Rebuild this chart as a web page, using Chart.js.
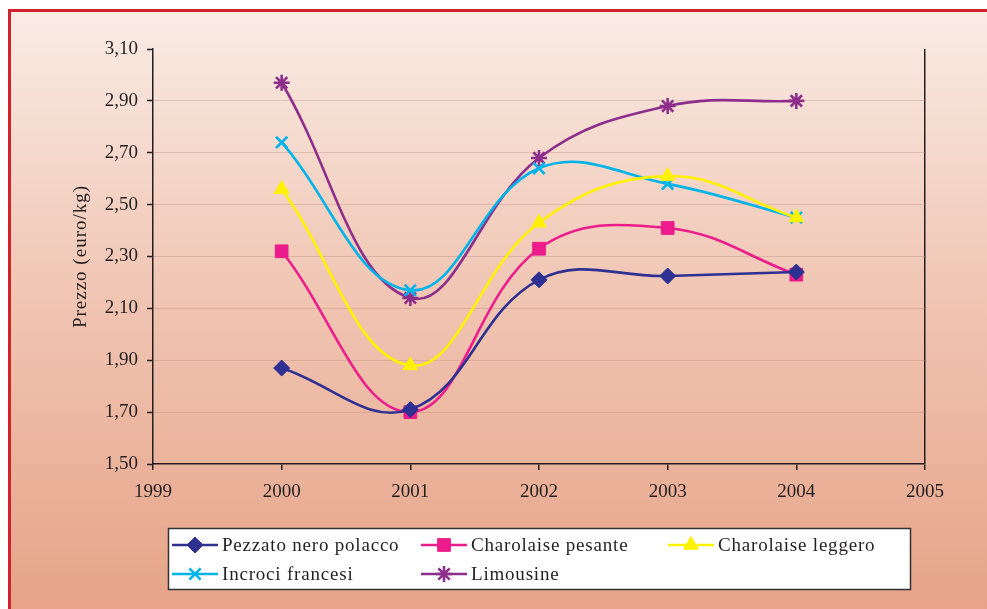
<!DOCTYPE html>
<html>
<head>
<meta charset="utf-8">
<script src="https://cdn.jsdelivr.net/npm/chart.js@4/dist/chart.umd.min.js"></script>
<style>
  html, body { margin: 0; padding: 0; background: #ffffff; }
  #wrap { position: relative; width: 987px; height: 609px; }
</style>
</head>
<body>
<div id="wrap"><canvas id="c" width="987" height="609"></canvas></div>
<script>
// Prezzo medio annuo per tipologia di broutard (euro/kg)
const years = [2000, 2001, 2002, 2003, 2004];
const pezzatoNeroPolacco = [1.87, 1.71, 2.21, 2.225, 2.24];
const charolaisePesante  = [2.32, 1.70, 2.33, 2.41, 2.23];
const charolaiseLeggero  = [2.56, 1.88, 2.43, 2.61, 2.45];
const incrociFrancesi    = [2.74, 2.17, 2.64, 2.58, 2.45];
const limousine          = [2.97, 2.14, 2.68, 2.88, 2.90];

const seriesNames = ['Pezzato nero polacco', 'Charolaise pesante', 'Charolaise leggero', 'Incroci francesi', 'Limousine'];
const yTicks = [1.50, 1.70, 1.90, 2.10, 2.30, 2.50, 2.70, 2.90, 3.10];
const xTicks = [1999, 2000, 2001, 2002, 2003, 2004, 2005];
const yTitle = 'Prezzo (euro/kg)';

const FONT = '"Liberation Serif", "DejaVu Serif", serif';
const INK = '#231f20';

const styles = [
  { color: '#2e3192', point: 'rectRot',  radius: 8 },
  { color: '#ec1c8c', point: 'rect',     radius: 9 },
  { color: '#fff200', point: 'triangle', radius: 8.5 },
  { color: '#00b4ea', point: 'crossRot', radius: 8 },
  { color: '#8e2e8c', point: 'star',     radius: 8 }
];
const values = [pezzatoNeroPolacco, charolaisePesante, charolaiseLeggero, incrociFrancesi, limousine];

const datasets = values.map((vals, i) => ({
  label: seriesNames[i],
  data: years.map((yr, k) => ({ x: yr, y: vals[k] })),
  borderColor: styles[i].color,
  backgroundColor: styles[i].color,
  pointBackgroundColor: styles[i].color,
  pointBorderColor: styles[i].color,
  pointStyle: styles[i].point,
  pointRadius: styles[i].radius,
  pointBorderWidth: (styles[i].point === 'crossRot' || styles[i].point === 'star') ? 2.6 : 1,
  borderWidth: 2.6,
  tension: 0.4,
  fill: false
}));

// frame, gradient background, axis title and legend box
const decor = {
  id: 'decor',
  beforeDraw(chart) {
    const ctx = chart.ctx;
    ctx.save();
    ctx.fillStyle = '#ffffff';
    ctx.fillRect(0, 0, chart.width, chart.height);
    const g = ctx.createLinearGradient(0, 12, 0, chart.height);
    g.addColorStop(0, '#f9ece5');
    g.addColorStop(0.45, '#f1c7b5');
    g.addColorStop(1, '#e6a388');
    ctx.fillStyle = g;
    ctx.fillRect(11, 12, chart.width - 11, chart.height - 12);
    ctx.fillStyle = '#d2222d';
    ctx.fillRect(8, 9, chart.width - 8, 3);
    ctx.fillRect(8, 9, 3, chart.height - 9);
    ctx.restore();
  },
  afterDraw(chart) {
    const ctx = chart.ctx;
    ctx.save();
    // y axis title
    ctx.translate(81, (chart.chartArea.top + chart.chartArea.bottom) / 2);
    ctx.rotate(-Math.PI / 2);
    ctx.fillStyle = INK;
    ctx.font = '19px ' + FONT;
    ctx.letterSpacing = '1px';
    ctx.textAlign = 'center';
    ctx.textBaseline = 'middle';
    ctx.fillText(yTitle, 0, 0);
    ctx.restore();

    // legend
    ctx.save();
    ctx.fillStyle = '#ffffff';
    ctx.fillRect(168.5, 528.5, 742, 61);
    ctx.strokeStyle = '#333';
    ctx.lineWidth = 1.5;
    ctx.strokeRect(168.5, 528.5, 742, 61);
    const cols = [172, 421, 668];
    const rows = [545, 574];
    chart.data.datasets.forEach((ds, i) => {
      const x0 = cols[i % 3];
      const y0 = rows[Math.floor(i / 3)];
      ctx.strokeStyle = ds.borderColor;
      ctx.lineWidth = 2.6;
      ctx.beginPath();
      ctx.moveTo(x0, y0);
      ctx.lineTo(x0 + 46, y0);
      ctx.stroke();
      ctx.fillStyle = ds.pointBackgroundColor;
      ctx.strokeStyle = ds.pointBorderColor;
      ctx.lineWidth = ds.pointBorderWidth;
      Chart.helpers.drawPoint(ctx, {
        pointStyle: ds.pointStyle,
        radius: ds.pointRadius,
        rotation: 0,
        borderWidth: ds.pointBorderWidth
      }, x0 + 23, y0);
      ctx.font = '19px ' + FONT;
      ctx.letterSpacing = '0.8px';
      ctx.textBaseline = 'middle';
      ctx.textAlign = 'left';
      ctx.fillStyle = INK;
      ctx.fillText(ds.label, x0 + 50, y0 + 1);
    });
    ctx.restore();
  }
};

new Chart(document.getElementById('c'), {
  type: 'line',
  data: { datasets },
  options: {
    responsive: false,
    animation: false,
    devicePixelRatio: 1,
    layout: { padding: { left: 0, right: 62, top: 49, bottom: 0 } },
    plugins: {
      legend: { display: false },
      tooltip: { enabled: false },
      title: { display: false }
    },
    scales: {
      x: {
        type: 'linear',
        min: xTicks[0],
        max: xTicks[xTicks.length - 1],
        afterBuildTicks(scale) { scale.ticks = xTicks.map(v => ({ value: v })); },
        afterFit(scale) { scale.height = 145; },
        ticks: {
          color: INK,
          font: { family: FONT, size: 19 },
          padding: 11,
          maxRotation: 0,
          callback: v => String(v)
        },
        grid: {
          drawOnChartArea: true,
          color: ctx => (ctx.tick && ctx.tick.value === xTicks[xTicks.length - 1]) ? INK : 'rgba(0,0,0,0)',
          lineWidth: 1.5,
          tickLength: 6,
          tickColor: INK,
          tickWidth: 1.5
        },
        border: { display: true, color: INK, width: 1.5 }
      },
      y: {
        type: 'linear',
        min: yTicks[0],
        max: yTicks[yTicks.length - 1],
        afterBuildTicks(scale) { scale.ticks = yTicks.map(v => ({ value: v })); },
        afterFit(scale) { scale.width = 153; },
        ticks: {
          color: INK,
          font: { family: FONT, size: 19 },
          padding: 9,
          callback: v => Number(v).toFixed(2).replace('.', ',')
        },
        grid: {
          color: ctx => {
            const v = ctx.tick ? ctx.tick.value : null;
            if (v === yTicks[0] || v === yTicks[yTicks.length - 1]) return 'rgba(0,0,0,0)';
            return 'rgba(185,135,120,0.35)';
          },
          lineWidth: 1,
          tickLength: 6,
          tickColor: INK,
          tickWidth: 1.5
        },
        border: { display: true, color: INK, width: 1.5 }
      }
    }
  },
  plugins: [decor]
});
</script>
</body>
</html>
